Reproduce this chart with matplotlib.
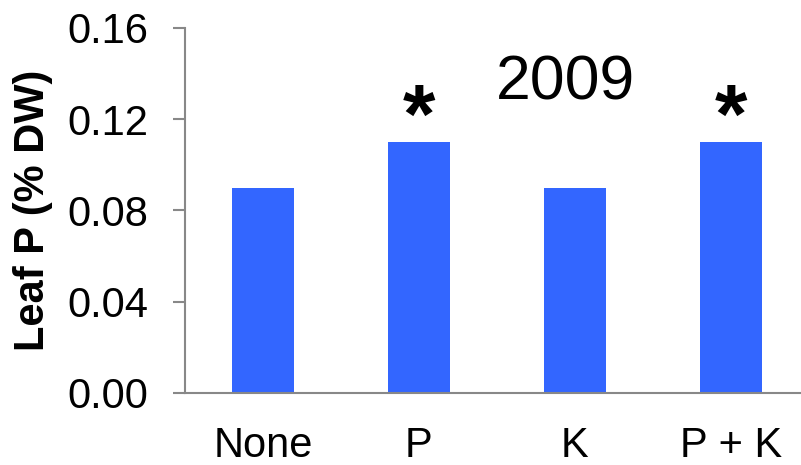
import matplotlib
matplotlib.use("Agg")
import matplotlib.pyplot as plt

# leaf P concentration by fertilizer treatment, 2009
treatments = ["None", "P", "K", "P + K"]
leaf_p = [0.09, 0.11, 0.09, 0.11]
significant = [False, True, False, True]
y_ticks = [0.00, 0.04, 0.08, 0.12, 0.16]

plt.rcParams['font.family'] = ['Liberation Sans', 'DejaVu Sans']

fig = plt.figure(figsize=(8.01, 4.65), dpi=100)
ax = fig.add_axes([0.231, 0.155, 0.769, 0.785])

x = range(len(treatments))
ax.bar(x, leaf_p, width=0.4, color='#3366FF')

for xi, val, sig in zip(x, leaf_p, significant):
    if sig:
        ax.annotate('*', xy=(xi, val), xytext=(0, -13), textcoords='offset points',
                    ha='center', va='bottom', fontsize=60, fontweight='bold')

ax.text(1.94, 0.1284, '2009', ha='center', va='baseline', fontsize=45)

ax.set_xlim(-0.5, 3.45)
ax.set_ylim(0, 0.16)
ax.set_yticks(y_ticks)
ax.set_yticklabels([f"{t:.2f}" for t in y_ticks])
ax.set_xticks(list(x))
ax.set_xticklabels(treatments)
ax.set_ylabel('Leaf P (% DW)', fontsize=30, fontweight='bold', labelpad=10)

for side in ['top', 'right']:
    ax.spines[side].set_visible(False)
for side in ['left', 'bottom']:
    ax.spines[side].set_color('#888888')
    ax.spines[side].set_linewidth(1.5)

ax.tick_params(axis='y', length=8.5, width=1.5, color='#888888', pad=18, labelsize=30)
ax.tick_params(axis='x', length=0, pad=24, labelsize=30)

fig.savefig('out.png', dpi=100)
